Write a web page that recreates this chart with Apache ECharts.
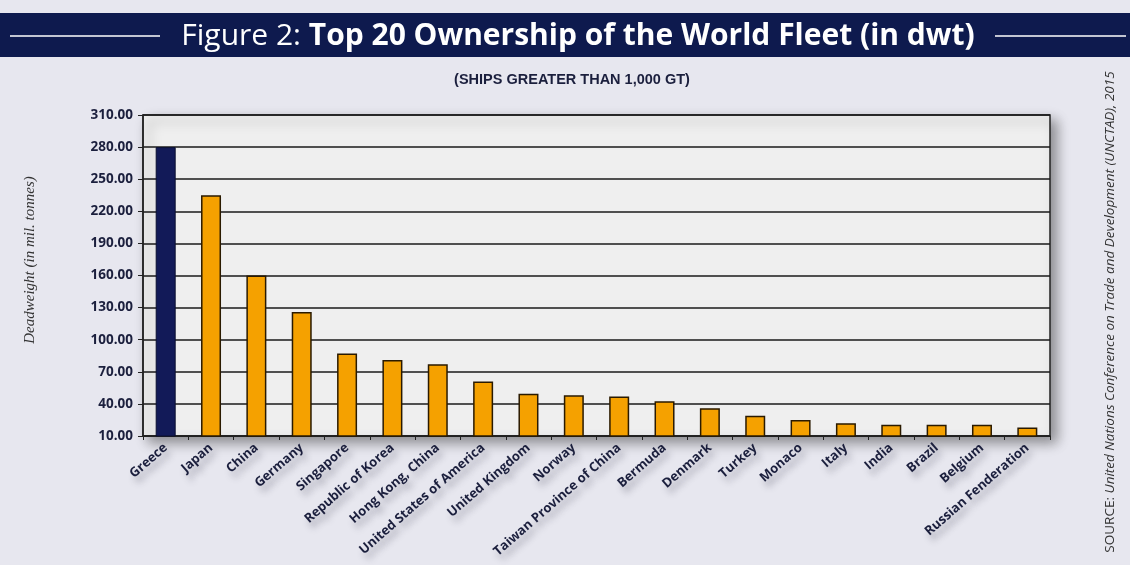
<!DOCTYPE html>
<html>
<head>
<meta charset="utf-8">
<script src="https://cdn.jsdelivr.net/npm/echarts@6/dist/echarts.min.js"></script>
<style>
html,body{margin:0;padding:0;background:#e7e7ef;}
#chart{width:1130px;height:565px;}
</style>
</head>
<body>
<div id="chart"></div>
<script>
const categories = ['Greece','Japan','China','Germany','Singapore','Republic of Korea','Hong Kong, China','United States of America','United Kingdom','Norway','Taiwan Province of China','Bermuda','Denmark','Turkey','Monaco','Italy','India','Brazil','Belgium','Russian Fenderation'];
const deadweight = [280, 235, 160, 126, 87, 81, 77, 61, 49.5, 48, 47, 42.5, 36, 29, 25, 22, 20.5, 20.5, 20.5, 18];
const yTicks = [10, 40, 70, 100, 130, 160, 190, 220, 250, 280, 310];
const highlightCategory = 'Greece';

const chart = echarts.init(document.getElementById('chart'));
const navy = '#0e1a4e';
const textDark = '#1b1f3d';

chart.setOption({
  backgroundColor: '#e7e7ef',
  animation: false,
  graphic: [
    {type: 'rect', z: -1, shape: {x: 0, y: 13, width: 1130, height: 44}, style: {fill: navy}},
    {type: 'line', shape: {x1: 10, y1: 36, x2: 160, y2: 36}, style: {stroke: '#ffffff', lineWidth: 1.5}},
    {type: 'line', shape: {x1: 995, y1: 36, x2: 1126, y2: 36}, style: {stroke: '#ffffff', lineWidth: 1.5}},
    {type: 'text', x: 578, y: 36,
      style: {
        text: '{a|Figure 2: }{b|Top 20 Ownership of the World Fleet (in dwt)}',
        align: 'center', verticalAlign: 'middle',
        rich: {
          a: {fill: '#ffffff', fontSize: 30, fontFamily: 'Open Sans', fontWeight: 'normal'},
          b: {fill: '#ffffff', fontSize: 30, fontFamily: 'Open Sans', fontWeight: 'bold'}
        }
      }},
    {type: 'text', x: 572, y: 80,
      style: {text: '(SHIPS GREATER THAN 1,000 GT)', fill: textDark, fontSize: 14.5, fontWeight: 'bold',
        fontFamily: 'Liberation Sans', align: 'center', verticalAlign: 'middle'}},
    {type: 'text', x: 30, y: 260, rotation: Math.PI / 2,
      style: {text: 'Deadweight (in mil. tonnes)', fill: '#333333', fontSize: 15, fontStyle: 'italic',
        fontFamily: 'Liberation Serif', align: 'center', verticalAlign: 'middle'}},
    {type: 'text', x: 1110, y: 312, rotation: Math.PI / 2,
      style: {
        text: '{s|SOURCE: }{t|United Nations Conference on Trade and Development (UNCTAD), 2015}',
        align: 'center', verticalAlign: 'middle',
        rich: {
          s: {fill: '#333333', fontSize: 13.5, fontFamily: 'Open Sans'},
          t: {fill: '#333333', fontSize: 13.5, fontFamily: 'Open Sans', fontStyle: 'italic'}
        }
      }}
  ],
  grid: {
    left: 143, right: 80, top: 115, bottom: 129,
    show: true, backgroundColor: '#efefef', borderColor: '#222222', borderWidth: 1.5,
    shadowColor: 'rgba(0,0,0,0.4)', shadowBlur: 12, shadowOffsetX: 6, shadowOffsetY: 6
  },
  xAxis: {
    type: 'category',
    data: categories,
    axisLine: {lineStyle: {color: '#222222', width: 1.5}},
    axisTick: {show: true, length: 4, lineStyle: {color: '#222222'}},
    axisLabel: {
      interval: 0, rotate: 41, margin: 10,
      color: textDark, fontSize: 13, fontFamily: 'Open Sans', fontWeight: 'bold',
      textShadowColor: 'rgba(60,60,80,0.35)', textShadowBlur: 6, textShadowOffsetX: 4, textShadowOffsetY: 6
    }
  },
  yAxis: {
    type: 'value',
    min: 10, max: 310,
    axisLine: {show: true, lineStyle: {color: '#222222', width: 1.5}},
    axisTick: {show: true, length: 5, customValues: yTicks, lineStyle: {color: '#222222'}},
    axisLabel: {
      customValues: yTicks, margin: 10,
      formatter: v => v.toFixed(2),
      color: textDark, fontSize: 13.5, fontFamily: 'Open Sans', fontWeight: 'bold'
    },
    splitLine: {show: true, lineStyle: {color: '#1a1a1a', width: 1.5}}
  },
  series: [{
    type: 'bar',
    barWidth: 20,
    data: deadweight.map((v, i) => ({
      value: v,
      itemStyle: categories[i] === highlightCategory
        ? {color: '#121a58', borderColor: '#0a0f30', borderWidth: 1}
        : {color: '#f5a100', borderColor: '#2a1a00', borderWidth: 1.5}
    }))
  }]
});
</script>
</body>
</html>
